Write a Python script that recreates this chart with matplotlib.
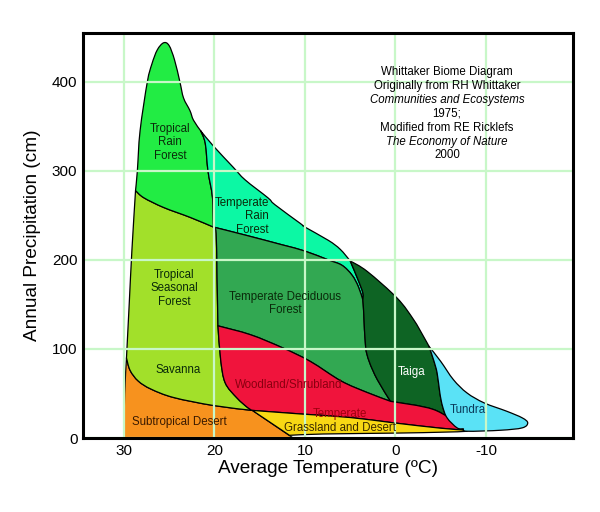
import numpy as np
import matplotlib
matplotlib.use("Agg")
import matplotlib.pyplot as plt
from matplotlib.patches import PathPatch
from matplotlib.path import Path

plt.rcParams["font.family"] = ["Liberation Sans", "DejaVu Sans"]
plt.rcParams["axes.unicode_minus"] = False

# Boundary lines of the biomes, (temperature C, precipitation cm)
env_left = [(30.0, 0), (29.9, 50), (29.7, 90)]
env_left_upper = [(29.7, 90), (29.4, 150), (29.1, 211), (28.7, 278)]
env_peak = [(28.7, 278), (28.5, 300), (28.2, 345), (27.4, 400), (26.9, 420), (26.3, 436),
            (25.6, 444), (25.0, 441), (24.4, 425), (23.8, 400), (23.4, 382), (22.7, 368),
            (22.3, 357), (21.5, 345)]
env_temp_rain = [(21.5, 345), (20.1, 328), (17.9, 304), (16.6, 290), (14.1, 270), (13.3, 262),
                 (10.5, 241), (10.0, 237), (7.4, 222), (6.1, 212), (5.0, 199)]
taiga_top = [(5.0, 199), (3.1, 187), (-0.2, 157), (-2.0, 133), (-3.1, 114), (-3.7, 103)]
tundra_top = [(-3.7, 103), (-5.0, 86), (-6.4, 65.5), (-7.9, 50.6), (-9.8, 39.4), (-12.3, 30),
              (-14.0, 22.6), (-14.6, 17), (-14.0, 11.4), (-11.6, 8.7), (-7.9, 7.6), (-7.5, 10.3)]

rain_split = [(21.5, 345), (21.0, 331), (20.7, 300), (20.2, 270), (20.1, 237)]
trop_rain_bottom = [(28.7, 278), (27.8, 270), (25.6, 259), (22.7, 248), (20.1, 237)]
decid_top = [(20.1, 237), (16.6, 228), (12.5, 217), (10.0, 210), (7.4, 200),
             (5.9, 194), (4.8, 183), (4.1, 170), (3.6, 155)]
taiga_left = [(5.0, 199), (4.1, 177), (3.6, 163), (3.6, 155)]
decid_taiga = [(3.6, 155), (3.5, 140), (3.3, 103), (2.9, 86), (2.0, 65.5), (0.55, 41.2)]
red_top = [(19.6, 126), (16.0, 116), (12.4, 101), (9.4, 86), (6.0, 64), (3.1, 51), (0.55, 41.2)]
red_taiga = [(0.55, 41.2), (-4.2, 32), (-7.2, 13.2), (-7.5, 10.3)]
taiga_tundra = [(-3.7, 103), (-4.2, 88), (-4.6, 73), (-4.9, 50.6), (-5.2, 35.6), (-5.7, 22.6),
                (-6.8, 11.4), (-7.5, 10.3)]
seasonal_right = [(20.1, 237), (19.8, 230), (19.7, 180), (19.6, 126)]
red_left = [(19.6, 126), (19.3, 88), (18.8, 62), (17.5, 45), (16.3, 34), (15.8, 31)]
savanna_bottom = [(29.7, 90), (29.3, 76), (28.4, 64), (27.0, 55), (24.5, 45.5), (20.1, 36.5),
                  (15.8, 31)]
desert_split = [(15.8, 31), (11.3, 0)]
desert_base = [(11.3, 0), (30.0, 0)]
yellow_top = [(15.8, 31), (10.5, 27), (5.0, 23), (0.2, 17), (-5.0, 11), (-7.5, 9)]
yellow_bottom = [(-7.5, 9), (-7.8, 7.5), (-5.0, 6.5), (0.0, 5.5), (8.0, 4.5), (11.7, 3)]
yellow_left = [(11.7, 3), (15.8, 31)]

biome_colors = {
    "trop_rain": "#22ec44",
    "temp_rain": "#0cf8a4",
    "seasonal": "#a2e02a",
    "decid": "#32a852",
    "taiga": "#0e6424",
    "woodland": "#f0143c",
    "desert": "#f7921e",
    "grassland": "#f8d814",
    "tundra": "#5ae2f6",
}


def rev(pts):
    return pts[::-1]


# each biome = chain of boundary pieces, corners kept sharp between pieces
shapes = {
    "desert": [env_left, savanna_bottom, desert_split, desert_base],
    "seasonal": [env_left_upper, trop_rain_bottom, seasonal_right, red_left, rev(savanna_bottom)],
    "trop_rain": [env_peak, rain_split, rev(trop_rain_bottom)],
    "temp_rain": [env_temp_rain, taiga_left, rev(decid_top), rev(rain_split)],
    "decid": [decid_top, decid_taiga, rev(red_top), rev(seasonal_right)],
    "taiga": [taiga_top, taiga_tundra, rev(red_taiga), rev(decid_taiga), rev(taiga_left)],
    "woodland": [red_top, red_taiga, [(-7.5, 10.3), (-7.5, 9)], rev(yellow_top), rev(red_left)],
    "grassland": [yellow_top, yellow_bottom, yellow_left],
    "tundra": [tundra_top, rev(taiga_tundra)],
}

labels = [
    ("Tropical\nRain\nForest", 24.9, 332, "center", "#0a2a0a"),
    ("Temperate\nRain\nForest", 14.0, 249, "right", "#0a2a0a"),
    ("Tropical\nSeasonal\nForest", 24.4, 168, "center", "#0a2a0a"),
    ("Savanna", 24.0, 76, "center", "#0a2a0a"),
    ("Temperate Deciduous\nForest", 12.2, 151, "center", "#0a2a0a"),
    ("Woodland/Shrubland", 11.8, 59, "center", "#8a0010"),
    ("Subtropical Desert", 23.9, 17.5, "center", "#3a1a00"),
    ("Temperate", 6.1, 27.5, "center", "#a0000f"),
    ("Grassland and Desert", 6.1, 10.7, "center", "#3a2a00"),
    ("Taiga", -1.8, 74.6, "center", "white"),
    ("Tundra", -8.0, 32, "center", "#0a3a5a"),
]

note_lines = ["Whittaker Biome Diagram", "Originally from RH Whittaker",
              "Communities and Ecosystems", "1975;", "Modified from RE Ricklefs",
              "The Economy of Nature", "2000"]
note_italic = [False, False, True, False, False, True, False]
note_y = [411.7, 395.6, 379.8, 364.9, 348.7, 333.0, 318.2]

x_ticks = [30, 20, 10, 0, -10]
y_ticks = [0, 100, 200, 300, 400]


def biome_path(pieces):
    # Catmull-Rom style bezier handles through each boundary piece
    verts, codes = [], []
    for k, piece in enumerate(pieces):
        p = np.array(piece, dtype=float)
        if k == 0:
            verts.append(p[0])
            codes.append(Path.MOVETO)
        ext = np.vstack([p[0], p, p[-1]])
        for i in range(1, len(p)):
            p0, p1, p2, p3 = ext[i - 1], ext[i], ext[i + 1], ext[i + 2]
            verts += [p1 + (p2 - p0) / 6.0, p2 - (p3 - p1) / 6.0, p2]
            codes += [Path.CURVE4] * 3
    verts.append(verts[0])
    codes.append(Path.CLOSEPOLY)
    return Path(np.array(verts), codes)


fig = plt.figure(figsize=(6.0, 5.12), dpi=100)
ax = fig.add_axes([83 / 600, 1 - 438 / 512, 490 / 600, 405 / 512])

for key, pieces in shapes.items():
    ax.add_patch(PathPatch(biome_path(pieces), facecolor=biome_colors[key],
                           edgecolor="black", linewidth=0.9, joinstyle="round", zorder=1))

ax.set_xlim(34.5, -19.6)
ax.set_ylim(0, 455)
ax.set_xticks(x_ticks)
ax.set_yticks(y_ticks)
ax.tick_params(length=0, labelsize=11, pad=4)
ax.set_axisbelow(False)
ax.grid(True, color="#c8f7c8", linewidth=1.6)
for sp in ax.spines.values():
    sp.set_linewidth(2.2)
    sp.set_zorder(4)

for txt, x, y, ha, col in labels:
    ax.text(x, y, txt, ha=ha, va="center", fontsize=8.3, color=col,
            multialignment=ha, linespacing=1.15, zorder=5)

for line, it, y in zip(note_lines, note_italic, note_y):
    ax.text(-5.7, y, line, ha="center", va="center", fontsize=8.3,
            style="italic" if it else "normal", color="black", zorder=5)

ax.set_xlabel("Average Temperature (\u00baC)", fontsize=13.7, labelpad=2)
ax.set_ylabel("Annual Precipitation (cm)", fontsize=13.7, labelpad=8)

fig.savefig("out.png", dpi=100)
